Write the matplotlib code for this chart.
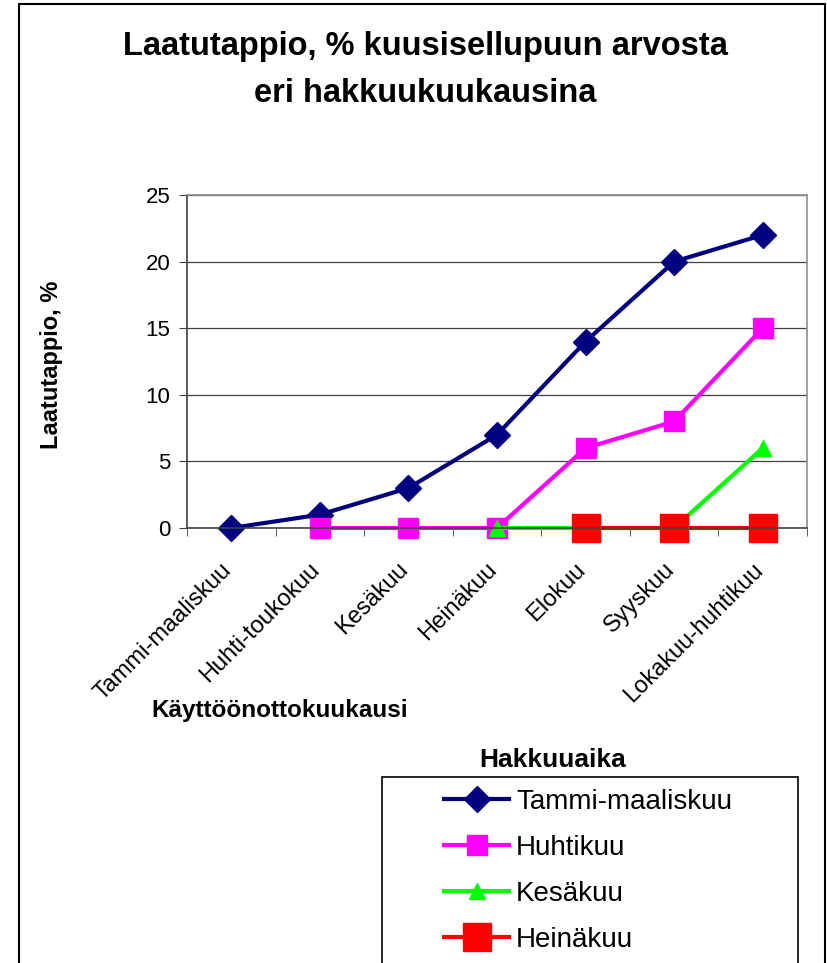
import numpy as np
import matplotlib
matplotlib.use("Agg")
import matplotlib.pyplot as plt
from matplotlib.patches import Rectangle
from matplotlib.transforms import ScaledTranslation

plt.rcParams["font.family"] = ["Liberation Sans", "DejaVu Sans"]

months = ["Tammi-maaliskuu", "Huhti-toukokuu", "Kesäkuu", "Heinäkuu",
          "Elokuu", "Syyskuu", "Lokakuu-huhtikuu"]

tammi = [0, 1, 3, 7, 14, 20, 22]
huhti = [np.nan, 0, 0, 0, 6, 8, 15]
kesa = [np.nan, np.nan, np.nan, 0, 0, 0, 6]
heina = [np.nan, np.nan, np.nan, np.nan, 0, 0, 0]

series_names = ["Tammi-maaliskuu", "Huhtikuu", "Kesäkuu", "Heinäkuu"]

fig = plt.figure(figsize=(8.28, 9.63), dpi=100)
ax = fig.add_axes([187 / 828, 1 - 528 / 963, 620 / 828, 333 / 963])

x = np.arange(len(months))
ax.plot(x, tammi, color="#000080", lw=3, marker="D", ms=13, label=series_names[0])
ax.plot(x, huhti, color="#ff00ff", lw=3, marker="s", ms=15, label=series_names[1])
ax.plot(x, kesa, color="#00ff00", lw=3, marker="^", ms=11, label=series_names[2])
ax.plot(x, heina, color="#ff0000", lw=3, marker="s", ms=20, label=series_names[3])

ax.set_xlim(-0.5, 6.5)
ax.set_ylim(0, 25)
ax.set_yticks(range(0, 26, 5))
ax.grid(axis="y", color="#404040", lw=0.9)
ax.set_axisbelow(True)

ax.set_xticks(x)
ax.set_xticklabels(months, rotation=45, ha="right", rotation_mode="anchor", fontsize=17)
ax.tick_params(axis="x", length=0, pad=22)
ax.set_xticks(np.arange(-0.5, 7, 1), minor=True)
ax.tick_params(axis="x", which="minor", length=6, direction="out", color="#404040")
ax.tick_params(axis="y", labelsize=16, length=6, pad=6, color="#404040")
shift = ScaledTranslation(-11 / 100, 0, fig.dpi_scale_trans)
for lbl in ax.get_xticklabels():
    lbl.set_transform(lbl.get_transform() + shift)

for s in ["top", "right"]:
    ax.spines[s].set_color("#909090")
    ax.spines[s].set_linewidth(1.2)
for s in ["left", "bottom"]:
    ax.spines[s].set_color("#404040")
    ax.spines[s].set_linewidth(1.2)
for line in ax.lines:
    line.set_clip_on(False)

fig.text(425 / 828, 1 - 47 / 963, "Laatutappio, % kuusisellupuun arvosta",
         ha="center", va="center", fontsize=23.5, fontweight="bold")
fig.text(425 / 828, 1 - 93 / 963, "eri hakkuukuukausina",
         ha="center", va="center", fontsize=23.5, fontweight="bold")
fig.text(52 / 828, 1 - 365 / 963, "Laatutappio, %", rotation=90,
         ha="center", va="center", fontsize=17, fontweight="bold")
fig.text(280 / 828, 1 - 710 / 963, "Käyttöönottokuukausi",
         ha="center", va="center", fontsize=17.5, fontweight="bold")

# outer chart frame
fig.patches.append(Rectangle((19 / 828, -0.01), 806 / 828, 1.01 - 4 / 963,
                             transform=fig.transFigure, fill=False,
                             edgecolor="black", lw=1.5))

# legend box and title
fig.patches.append(Rectangle((382 / 828, -0.01), 416 / 828, 1 - 777 / 963 + 0.01,
                             transform=fig.transFigure, fill=False,
                             edgecolor="black", lw=1.2))
fig.text(553 / 828, 1 - 760 / 963, "Hakkuuaika", ha="center", va="center",
         fontsize=19, fontweight="bold")
handles, labels = ax.get_legend_handles_labels()
fig.legend(handles, labels, loc="upper left", bbox_to_anchor=(444 / 828, 1 - 789 / 963),
           frameon=False, fontsize=20, handlelength=2.35, handletextpad=0.25,
           labelspacing=0.72, borderaxespad=0, borderpad=0)

fig.savefig("out.png", dpi=100)
